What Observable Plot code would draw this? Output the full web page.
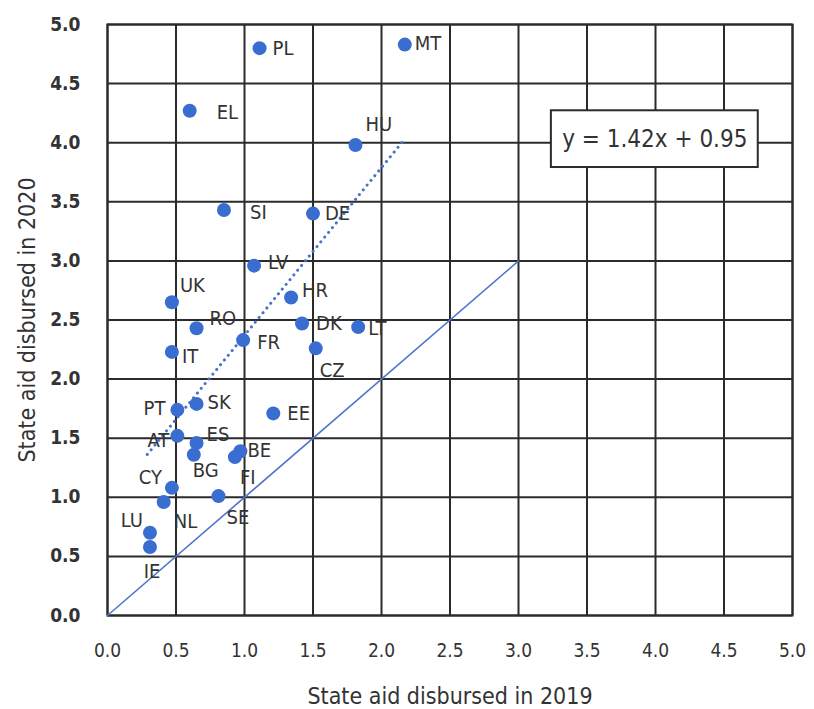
<!DOCTYPE html>
<html><head><meta charset="utf-8">
<style>body{margin:0;background:#fff} svg text{font-stretch:condensed}</style>
<script src="https://cdn.jsdelivr.net/npm/d3@7"></script>
<script src="https://cdn.jsdelivr.net/npm/@observablehq/plot@0.6"></script>
</head><body><div id="chart"></div>
<script>
const countries = ["PL","MT","EL","HU","SI","DE","LV","UK","HR","RO","DK","LT","FR","IT","CZ","PT","SK","EE","AT","ES","BG","BE","FI","CY","NL","SE","LU","IE"];
const aid2019 = [1.11,2.17,0.60,1.81,0.85,1.50,1.07,0.47,1.34,0.65,1.42,1.83,0.99,0.47,1.52,0.51,0.65,1.21,0.51,0.65,0.63,0.97,0.93,0.47,0.41,0.81,0.31,0.31];
const aid2020 = [4.80,4.83,4.27,3.98,3.43,3.40,2.96,2.65,2.69,2.43,2.47,2.44,2.33,2.23,2.26,1.74,1.79,1.71,1.52,1.46,1.36,1.39,1.34,1.08,0.96,1.01,0.70,0.58];
const tickValues = [0,0.5,1,1.5,2,2.5,3,3.5,4,4.5,5];
const diagonalX = [0,3];
const trendX = [0.29,2.15];
const trendSlope = 1.42, trendIntercept = 0.95;
const equationText = "y = 1.42x + 0.95";
const equationBox = {x1:3.24, x2:4.75, y1:3.79, y2:4.27};
const xTitle = "State aid disbursed in 2019";
const yTitle = "State aid disbursed in 2020";

// label placement (pixels): [dx, dy, anchor]
const labelPlacement = {
  PL:[13,0,"start"], MT:[10,-1,"start"], EL:[27,2,"start"], HU:[10,-20,"start"],
  SI:[26,3,"start"], DE:[12,0,"start"], LV:[14,-3,"start"], UK:[8,-17,"start"],
  HR:[11,-7,"start"], RO:[13,-10,"start"], DK:[14,0,"start"], LT:[10,2,"start"],
  FR:[14,2,"start"], IT:[10,5,"start"], CZ:[4,22,"start"], PT:[-12,-1,"end"],
  SK:[11,-1,"start"], EE:[14,0,"start"], AT:[-8,5,"end"], ES:[10,-8,"start"],
  BG:[-1,16,"start"], BE:[7,-1,"start"], FI:[5,20,"start"], CY:[-10,-10,"end"],
  NL:[10,20,"start"], SE:[8,21,"start"], LU:[-7,-12,"end"], IE:[2,25,"middle"]
};

const data = countries.map((c,i)=>({c, x:aid2019[i], y:aid2020[i]}));
const diag = diagonalX.map(v=>({x:v,y:v}));
const trend = trendX.map(v=>({x:v,y:trendSlope*v+trendIntercept}));

const font = "'DejaVu Sans','Liberation Sans',sans-serif";
const blue = "#3a6dd0";
const dark = "#2b2b2b";

const labelMarks = data.map(d=>{
  const [dx,dy,a] = labelPlacement[d.c];
  return Plot.text([d], {x:"x", y:"y", text:"c", dx, dy, textAnchor:a, lineAnchor:"middle", fontSize:20, fontWeight:500, fill:"#333"});
});

const chart = Plot.plot({
  width:814, height:709,
  marginLeft:107, marginRight:22, marginTop:24, marginBottom:94,
  style:{fontFamily:font, background:"#fff", color:"#333"},
  x:{domain:[0,5]},
  y:{domain:[0,5]},
  marks:[
    Plot.gridX(tickValues, {stroke:dark, strokeOpacity:1, strokeWidth:2}),
    Plot.gridY(tickValues, {stroke:dark, strokeOpacity:1, strokeWidth:2}),
    Plot.frame({stroke:dark, strokeWidth:2}),
    Plot.line(diag, {x:"x", y:"y", stroke:"#4f76cc", strokeWidth:1.6}),
    Plot.line(trend, {x:"x", y:"y", stroke:"#4a72c8", strokeWidth:3, strokeDasharray:"0.1,6", strokeLinecap:"round"}),
    Plot.dot(data, {x:"x", y:"y", r:7, fill:blue, stroke:null}),
    ...labelMarks,
    Plot.rect([equationBox], {x1:"x1", x2:"x2", y1:"y1", y2:"y2", fill:"#fff", stroke:dark, strokeWidth:2}),
    Plot.text([equationBox], {x:d=>(d.x1+d.x2)/2, y:d=>(d.y1+d.y2)/2, text:()=>equationText, fontSize:24, fill:"#333", lineAnchor:"middle"}),
    Plot.axisX(tickValues, {tickFormat:d3.format(".1f"), tickSize:0, tickPadding:28, fontSize:19, label:null}),
    Plot.axisY(tickValues, {tickFormat:d3.format(".1f"), tickSize:0, tickPadding:27, fontSize:19, fontWeight:"bold", label:null}),
    Plot.text([xTitle], {frameAnchor:"bottom", text:d=>d, dy:81, fontSize:23, fill:"#333", textAnchor:"middle", lineAnchor:"middle"}),
    Plot.text([yTitle], {frameAnchor:"left", text:d=>d, dx:-80, rotate:-90, fontSize:23, fill:"#333", textAnchor:"middle", lineAnchor:"middle"})
  ]
});
document.getElementById("chart").appendChild(chart);
</script></body></html>
